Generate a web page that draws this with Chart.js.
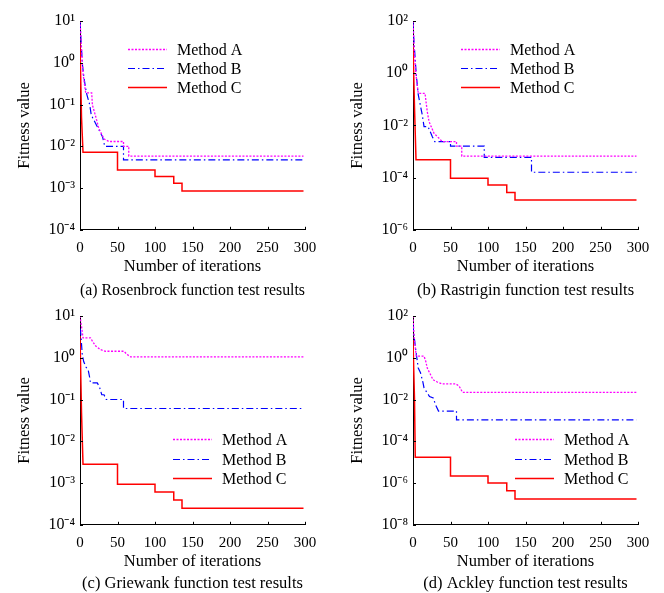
<!DOCTYPE html>
<html>
<head>
<meta charset="utf-8">
<script src="https://cdn.jsdelivr.net/npm/chart.js@4.4.0/dist/chart.umd.min.js"></script>
<style>
  body { margin: 0; background: #fff; width: 664px; height: 593px; position: relative; overflow: hidden; }
  canvas { position: absolute; }
</style>
</head>
<body>
<canvas id="c1" width="332" height="302" style="left:0;top:0"></canvas>
<canvas id="c2" width="332" height="302" style="left:333px;top:0"></canvas>
<canvas id="c3" width="332" height="302" style="left:0;top:295px"></canvas>
<canvas id="c4" width="332" height="302" style="left:333px;top:295px"></canvas>
<script>
// [iteration, fitness] pairs
const methodLabels = ['Method A', 'Method B', 'Method C'];

const rosenA = [[0,10],[2,2.2],[4,0.56],[7.6,0.19],[15.6,0.19],[16.5,0.098],[21,0.051],[25,0.027],[32,0.015],[38.6,0.013],[58,0.013],[58,0.01],[65,0.01],[65,0.0058],[298,0.0058]];
const rosenB = [[0,10],[1,4.6],[3.2,0.9],[5.4,0.43],[8.5,0.19],[13,0.098],[15,0.056],[22,0.032],[30,0.017],[33,0.01],[58,0.01],[58,0.0047],[298,0.0047]];
const rosenC = [[0,2.9],[2,0.05],[4,0.0072],[50,0.0072],[50,0.0027],[100,0.0027],[100,0.0019],[125,0.0019],[125,0.0013],[136,0.0013],[136,0.00085],[298,0.00085]];

const rastA = [[0,100],[1.5,9],[3.6,1.1],[7,0.17],[16,0.17],[19,0.034],[21.4,0.014],[28,0.005],[34.7,0.0032],[39,0.0024],[58,0.0024],[58,0.0016],[65,0.0016],[65,0.00066],[298,0.00066]];
const rastB = [[0,100],[1,22],[4.4,0.85],[7,0.15],[12.4,0.025],[14.7,0.009],[20,0.009],[25.8,0.0037],[29,0.0024],[50,0.0024],[50,0.0016],[95,0.0016],[95,0.0006],[158,0.0006],[158,0.00016],[298,0.00016]];
const rastC = [[0,12],[2,0.05],[4,0.00048],[50,0.00048],[50,0.000095],[100,0.000095],[100,0.000052],[125,0.000052],[125,0.000027],[136,0.000027],[136,0.000014],[298,0.000014]];

const griewA = [[0,10],[2.3,5.2],[4,3.0],[14,3.0],[16.5,2.5],[21,1.9],[27.5,1.56],[34,1.43],[58.6,1.43],[63,1.19],[67.5,1.05],[298,1.05]];
const griewB = [[0,5],[1,3.9],[3,1.2],[5,0.8],[8,0.6],[11,0.5],[13,0.33],[14,0.25],[23,0.25],[26,0.2],[29,0.13],[32,0.13],[35,0.1],[58,0.1],[58,0.061],[298,0.061]];
const griewC = [[0,3.3],[2,0.05],[4,0.0028],[50,0.0028],[50,0.00093],[100,0.00093],[100,0.00061],[125,0.00061],[125,0.00039],[136,0.00039],[136,0.00025],[298,0.00025]];

const ackA = [[0,100],[1.5,9],[4.4,1.2],[14.7,1.2],[17,0.68],[19,0.32],[23.6,0.15],[26.7,0.089],[32.4,0.069],[39,0.056],[57,0.056],[61.5,0.044],[66,0.022],[298,0.022]];
const ackB = [[0,40],[1,15],[3.6,2.5],[7,0.32],[10,0.19],[13.4,0.063],[14.7,0.036],[22,0.014],[27,0.012],[30,0.0057],[34,0.0028],[58,0.0028],[58,0.00105],[298,0.00105]];
const ackC = [[0,7],[2,0.01],[3,0.000017],[50,0.000017],[50,0.0000022],[100,0.0000022],[100,0.000001],[125,0.000001],[125,0.00000043],[136,0.00000043],[136,0.00000017],[298,0.00000017]];

const ticks1 = [10, 1, 0.1, 0.01, 0.001, 0.0001];
const ticks2 = [100, 1, 0.01, 0.0001, 0.000001];
const ticks4 = [100, 1, 0.01, 0.0001, 0.000001, 0.00000001];

const captions = ['(a) Rosenbrock function test results', '(b) Rastrigin function test results',
                  '(c) Griewank function test results', '(d) Ackley function test results'];

const FONT = '"Liberation Serif", "Times New Roman", serif';
Chart.defaults.color = '#000';
Chart.defaults.font.family = FONT;

const sup = {'-':'⁻','0':'⁰','1':'¹','2':'²','3':'³','4':'⁴','5':'⁵','6':'⁶','7':'⁷','8':'⁸','9':'⁹'};
function powLabel(v) {
    const e = String(Math.round(Math.log10(v)));
    return '10' + e.split('').map(c => sup[c]).join('');
}

// small tick marks pointing into the plot
const innerTicks = {
    id: 'innerTicks',
    afterDatasetsDraw(chart) {
        const ctx = chart.ctx, a = chart.chartArea;
        const xs = chart.scales.x, ys = chart.scales.y;
        ctx.save();
        ctx.strokeStyle = '#000';
        ctx.lineWidth = 1;
        ctx.beginPath();
        xs.ticks.forEach((t, i) => {
            const px = Math.round(xs.getPixelForTick(i)) + 0.5;
            ctx.moveTo(px, a.bottom); ctx.lineTo(px, a.bottom - 3);
        });
        ys.ticks.forEach((t, i) => {
            const py = Math.round(ys.getPixelForTick(i)) + 0.5;
            ctx.moveTo(a.left, py); ctx.lineTo(a.left + 3, py);
        });
        ctx.stroke();
        ctx.restore();
    }
};

// legend drawn inside the plot area
const insideLegend = {
    id: 'insideLegend',
    afterDraw(chart, args, opts) {
        const {ctx, chartArea} = chart;
        ctx.save();
        ctx.font = '16px ' + FONT;
        ctx.textBaseline = 'middle';
        ctx.fillStyle = '#000';
        chart.data.datasets.forEach((ds, i) => {
            const x = chartArea.left + opts.left;
            const y = Math.round(chartArea.top + opts.top + i * opts.gap) + 0.5;
            ctx.strokeStyle = ds.borderColor;
            ctx.lineWidth = ds.borderWidth;
            ctx.setLineDash(ds.borderDash || []);
            ctx.beginPath(); ctx.moveTo(x, y); ctx.lineTo(x + 39, y); ctx.stroke();
            ctx.setLineDash([]);
            ctx.fillText(ds.label, x + 49, y + 1);
        });
        ctx.restore();
    }
};

const styles = [
    { borderColor: '#ff00ff', borderWidth: 1.3, borderDash: [2, 1.5] },
    { borderColor: '#0000ff', borderWidth: 1.2, borderDash: [7, 3, 1.5, 3] },
    { borderColor: '#ff0000', borderWidth: 1.5, borderDash: [] }
];

function makePanel(id, caption, series, yMin, yMax, yTicks, legend, capPad, bottomPad) {
    new Chart(id, {
        type: 'line',
        data: {
            datasets: series.map((s, i) => Object.assign({
                label: methodLabels[i],
                data: s.map(p => ({ x: p[0], y: p[1] })),
                pointRadius: 0,
                tension: 0,
                fill: false
            }, styles[i]))
        },
        options: {
            responsive: false,
            animation: false,
            devicePixelRatio: 1,
            layout: { padding: { left: 11, right: 27, top: 21, bottom: bottomPad } },
            scales: {
                x: {
                    type: 'linear', min: 0, max: 300,
                    grid: { display: false, drawTicks: false },
                    border: { display: true, color: '#000', width: 1 },
                    afterFit: scale => { scale.height = 49; },
                    ticks: { stepSize: 50, padding: 9, maxRotation: 0, font: { size: 15 } },
                    title: { display: true, text: 'Number of iterations', font: { size: 16.5 }, padding: { top: 0, bottom: 2 } }
                },
                y: {
                    type: 'logarithmic', min: yMin, max: yMax,
                    grid: { display: false, drawTicks: false },
                    border: { display: true, color: '#000', width: 1 },
                    afterBuildTicks: scale => { scale.ticks = yTicks.map(v => ({ value: v })); },
                    afterFit: scale => { scale.width = 69; },
                    ticks: { padding: 5, font: { size: 16 }, callback: v => powLabel(v) },
                    title: { display: true, text: 'Fitness value', font: { size: 16.5 }, padding: { top: 4, bottom: 4 } }
                }
            },
            plugins: {
                legend: { display: false },
                tooltip: { enabled: false },
                title: {
                    display: true, text: caption, position: 'bottom', fullSize: false,
                    font: { size: 16.5, weight: 'normal' }, padding: { top: capPad, bottom: 0 }
                },
                insideLegend: legend
            }
        },
        plugins: [innerTicks, insideLegend]
    });
}

makePanel('c1', captions[0], [rosenA, rosenB, rosenC], 1e-4, 10, ticks1, { left: 48, top: 28, gap: 19 }, 2, 1.4);
makePanel('c2', captions[1], [rastA, rastB, rastC], 1e-6, 100, ticks2, { left: 48, top: 28, gap: 19 }, 2, 1.4);
makePanel('c3', captions[2], [griewA, griewB, griewC], 1e-4, 10, ticks1, { left: 93, top: 123, gap: 19.5 }, 0, 3.4);
makePanel('c4', captions[3], [ackA, ackB, ackC], 1e-8, 100, ticks4, { left: 102, top: 123, gap: 19.5 }, 0, 3.4);
</script>
</body>
</html>
